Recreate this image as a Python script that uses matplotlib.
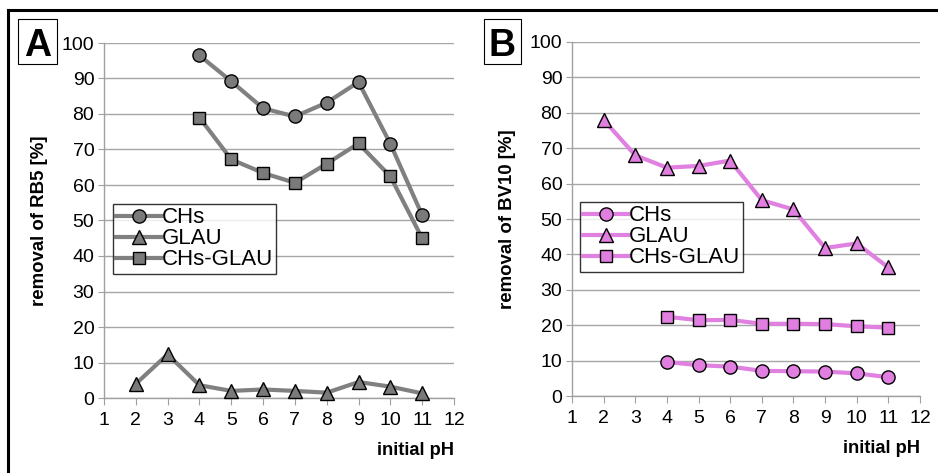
import matplotlib
matplotlib.use("Agg")
import matplotlib.pyplot as plt
from matplotlib.lines import Line2D
from matplotlib.patches import Rectangle

plt.rcParams['font.family'] = ['Liberation Sans', 'DejaVu Sans']

# Panel A (RB5)
a_x_chs = [4, 5, 6, 7, 8, 9, 10, 11]
a_chs = [96.5, 89.2, 81.6, 79.3, 83.2, 89.0, 71.6, 51.5]
a_x_glau = [2, 3, 4, 5, 6, 7, 8, 9, 10, 11]
a_glau = [4.0, 12.3, 3.6, 2.0, 2.4, 2.0, 1.5, 4.5, 3.2, 1.3]
a_x_mix = [4, 5, 6, 7, 8, 9, 10, 11]
a_mix = [79.0, 67.2, 63.4, 60.6, 66.0, 71.7, 62.4, 45.0]

# Panel B (BV10)
b_x_chs = [4, 5, 6, 7, 8, 9, 10, 11]
b_chs = [9.6, 8.7, 8.3, 7.1, 7.0, 6.9, 6.4, 5.3]
b_x_glau = [2, 3, 4, 5, 6, 7, 8, 9, 10, 11]
b_glau = [78.0, 68.0, 64.5, 65.0, 66.5, 55.3, 52.7, 41.8, 43.1, 36.3]
b_x_mix = [4, 5, 6, 7, 8, 9, 10, 11]
b_mix = [22.4, 21.4, 21.5, 20.4, 20.4, 20.3, 19.7, 19.3]

series_names = ["CHs", "GLAU", "CHs-GLAU"]
x_ticks = list(range(1, 13))
y_ticks = list(range(0, 101, 10))

fig = plt.figure(figsize=(9.38, 4.73), dpi=100)
W, H = 938, 473

def px_rect(l, r, t, b):
    return [l / W, (H - b) / H, (r - l) / W, (b - t) / H]

def panel(rect, data, line_c, face_c, ylabel, letter, letter_box, leg_xy):
    ax = fig.add_axes(rect)
    markers = ['o', '^', 's']
    sizes = [9.5, 9.5, 8.5]
    for (xs, ys), m, ms, name in zip(data, markers, sizes, series_names):
        ax.plot(xs, ys, color=line_c, lw=3.0, marker=m, markersize=ms,
                markerfacecolor=face_c, markeredgecolor='black', markeredgewidth=1.0,
                label=name, zorder=3, clip_on=False)
    ax.set_xlim(1, 12)
    ax.set_ylim(0, 100)
    ax.set_xticks(x_ticks)
    ax.set_yticks(y_ticks)
    ax.grid(axis='y', color='#a6a6a6', lw=1.0, zorder=0)
    for s in ['top', 'right']:
        ax.spines[s].set_visible(False)
    for s in ['left', 'bottom']:
        ax.spines[s].set_color('#a0a0a0')
        ax.spines[s].set_linewidth(1.0)
    ax.tick_params(axis='x', direction='out', length=5, color='#a0a0a0', labelsize=14, pad=5)
    ax.tick_params(axis='y', direction='out', length=4, color='#a0a0a0', labelsize=14, pad=3)
    ax.set_ylabel(ylabel, fontsize=13.4, fontweight='bold', labelpad=10)
    ax.text(1.0, -0.125, "initial pH", transform=ax.transAxes, ha='right', va='top',
            fontsize=13.2, fontweight='bold')
    leg = ax.legend(loc='upper left', bbox_to_anchor=leg_xy,
                    bbox_transform=fig.transFigure, frameon=True, fancybox=False,
                    edgecolor='black', fontsize=16, handlelength=2.0, handletextpad=0.05,
                    borderpad=0.15, labelspacing=0.0, borderaxespad=0)
    leg.get_frame().set_linewidth(1.0)
    # letter box
    l, r, t, b = letter_box
    fig.patches.append(Rectangle((l / W, (H - b) / H), (r - l) / W, (b - t) / H,
                                 transform=fig.transFigure, fill=False, edgecolor='black', lw=0.8))
    fig.text((l + r) / 2 / W, (H - (t + b) / 2) / H, letter, ha='center', va='center_baseline',
             fontsize=27, fontweight='bold')
    return ax

panel(px_rect(104, 454, 43, 398), [(a_x_chs, a_chs), (a_x_glau, a_glau), (a_x_mix, a_mix)],
      '#808080', '#7a7a7a', "removal of RB5 [%]", "A", (18, 57, 19, 64),
      (113 / W, (H - 204) / H))
panel(px_rect(572, 920, 42, 396), [(b_x_chs, b_chs), (b_x_glau, b_glau), (b_x_mix, b_mix)],
      '#e080e0', '#e07fe0', "removal of BV10 [%]", "B", (484, 521, 19, 64),
      (580 / W, (H - 202) / H))

# outer frame lines
fig.add_artist(Line2D([8 / W, 1], [(H - 10) / H, (H - 10) / H], color='black', lw=2.2,
                      transform=fig.transFigure))
fig.add_artist(Line2D([8 / W, 8 / W], [0, (H - 10) / H], color='black', lw=2.2,
                      transform=fig.transFigure))

fig.savefig("out.png", dpi=100)
